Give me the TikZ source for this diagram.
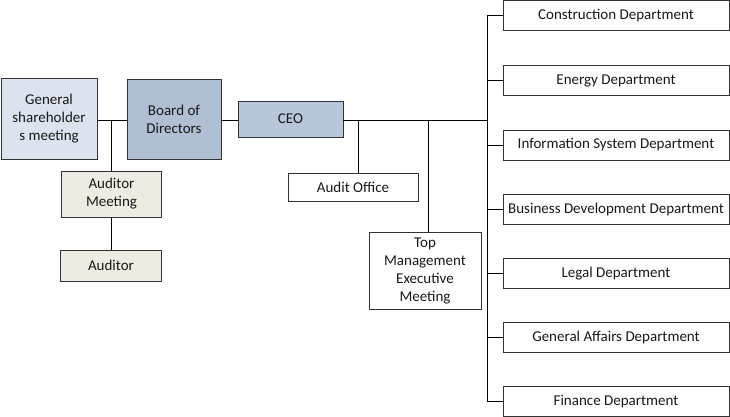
\documentclass[tikz,border=0pt]{standalone}
\usepackage{fontspec}
\setmainfont{Carlito}
\begin{document}
\begin{tikzpicture}[x=1pt,y=-1pt,
  box/.style={draw=black!80,line width=0.8pt,align=center,inner sep=0pt,
    font=\fontsize{15}{18}\selectfont,text=black!90},
  dept/.style={box,fill=white,minimum width=226pt,minimum height=30pt},
  conn/.style={draw=black,line width=0.9pt}]
\useasboundingbox (0,0) rectangle (730,417);
\node[box,fill={rgb,255:red,220;green,227;blue,238},minimum width=96pt,minimum height=81pt] (gsm) at (49,118.5) {General\\shareholder\\s meeting};
\node[box,fill={rgb,255:red,176;green,191;blue,212},minimum width=94pt,minimum height=80pt] (bod) at (174,119) {Board of\\Directors};
\node[box,fill={rgb,255:red,238;green,236;blue,226},minimum width=100pt,minimum height=46pt] (am) at (111.5,194) {Auditor\\Meeting};
\node[box,fill={rgb,255:red,238;green,236;blue,226},minimum width=101pt,minimum height=31pt] (aud) at (111,265.5) {Auditor};
\node[box,fill={rgb,255:red,184;green,198;blue,220},minimum width=105pt,minimum height=36pt] (ceo) at (290.5,119) {CEO};
\node[box,fill=white,minimum width=130pt,minimum height=28pt] (ao) at (353,187) {Audit Office};
\node[box,fill=white,minimum width=112pt,minimum height=77pt] (tm) at (425,270.5) {Top\\Management\\Executive\\Meeting};
\node[dept] (d1) at (616,15.5) {Construction Department};
\node[dept] (d2) at (616,80.7) {Energy Department};
\node[dept] (d3) at (616,145) {Information System Department};
\node[dept] (d4) at (616,209) {Business Development Department};
\node[dept] (d5) at (616,273.5) {Legal Department};
\node[dept] (d6) at (616,337.5) {General Affairs Department};
\node[dept] (d7) at (616,401.5) {Finance Department};
\coordinate (j1) at (111,120);
\coordinate (j2) at (358,120);
\coordinate (j3) at (428,120);
\coordinate (bus) at (487,120);
\draw[conn] (gsm.east |- j1) -- (bod.west |- j1);
\draw[conn] (j1) -- (j1 |- am.north);
\draw[conn] (j1 |- am.south) -- (j1 |- aud.north);
\draw[conn] (bod.east |- j1) -- (ceo.west |- j1);
\draw[conn] (ceo.east |- j1) -- (bus);
\draw[conn] (j2) -- (j2 |- ao.north);
\draw[conn] (j3) -- (j3 |- tm.north);
\draw[conn] (bus |- d1.west) -- (bus |- d7.west);
\foreach \d in {d1,d2,d3,d4,d5,d6,d7} \draw[conn] (bus |- \d.west) -- (\d.west);
\end{tikzpicture}
\end{document}
